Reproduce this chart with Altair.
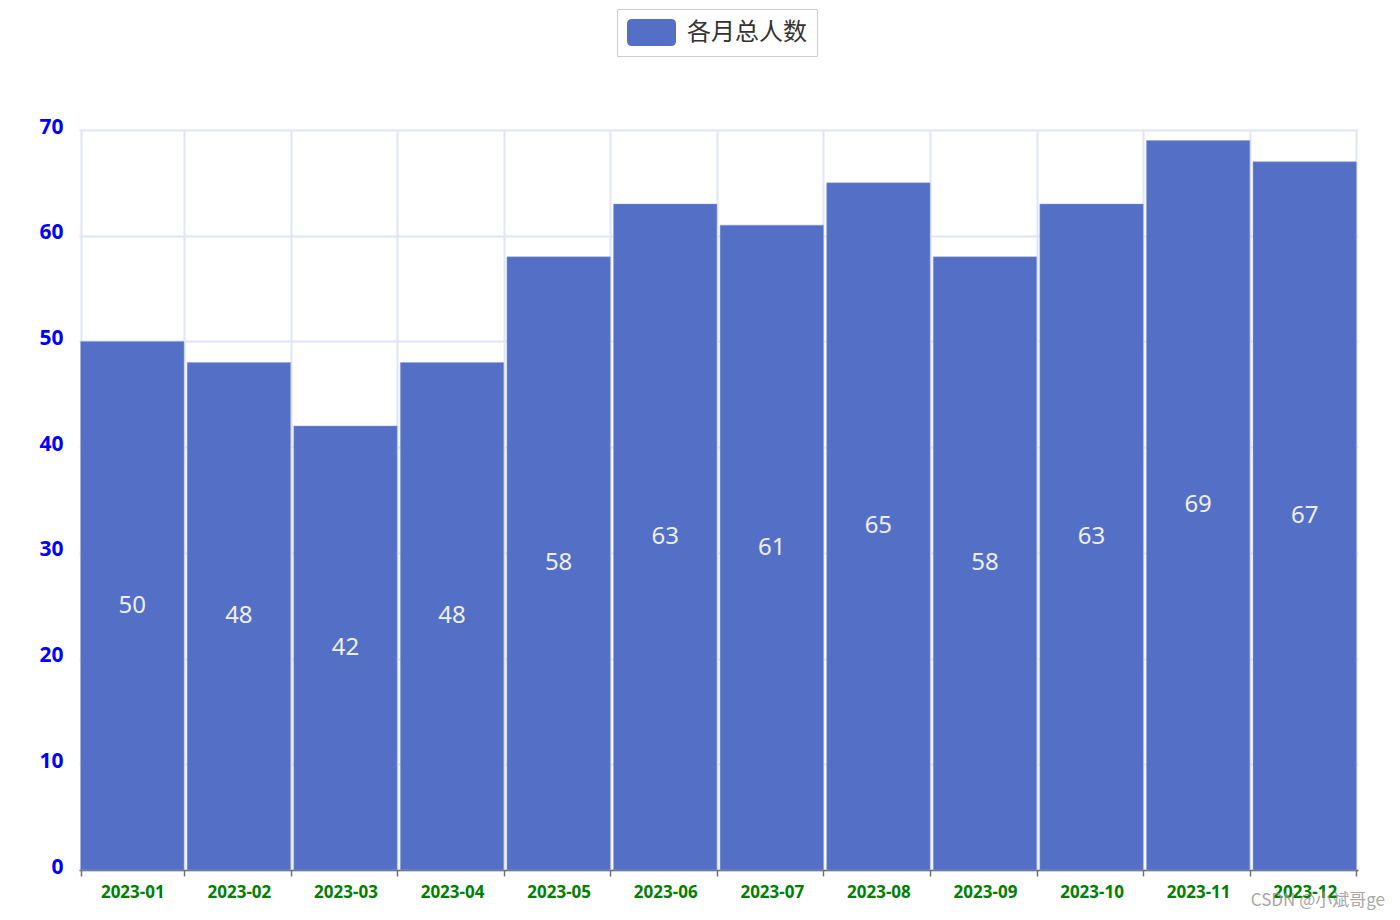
import altair as alt
import pandas as pd

months = ["2023-01", "2023-02", "2023-03", "2023-04", "2023-05", "2023-06",
          "2023-07", "2023-08", "2023-09", "2023-10", "2023-11", "2023-12"]
counts = [50, 48, 42, 48, 58, 63, 61, 65, 58, 63, 69, 67]
series_name = "各月总人数"
y_ticks = [0, 10, 20, 30, 40, 50, 60, 70]
watermark = "CSDN @小斌哥ge"

df = pd.DataFrame({"month": months, "count": counts, "series": series_name})

W, H = 1279, 740
# rounded swatch, 49x27 px when symbolSize = 27^2 (1 unit = 13.5 px)
rr = ("M-0.63,-1 L2.26,-1 Q2.63,-1 2.63,-0.63 L2.63,0.63 Q2.63,1 2.26,1 "
      "L-0.63,1 Q-1,1 -1,0.63 L-1,-0.63 Q-1,-1 -0.63,-1 Z")

x = alt.X("month:N", sort=months, title=None,
          scale=alt.Scale(paddingInner=0.03, paddingOuter=0.015),
          axis=alt.Axis(labelAngle=0, labelColor="green", labelFontWeight="bold",
                        labelFontSize=17, labelFont="Noto Sans", labelPadding=8,
                        domainColor="#6e7079", domainWidth=1.5, tickColor="#6e7079",
                        tickWidth=1.5, tickSize=6, tickBand="extent",
                        grid=True, gridColor="#e0e6f1", gridWidth=2))
y = alt.Y("count:Q", title=None,
          scale=alt.Scale(domain=[0, 70], nice=False),
          axis=alt.Axis(values=y_ticks, labelColor="blue", labelFontWeight="bold",
                        labelFontSize=21, labelFont="Noto Sans", labelPadding=16,
                        labelOffset=-3,
                        domain=False, ticks=False, grid=True, gridColor="#e0e6f1",
                        gridWidth=2))

bars = alt.Chart(df).mark_bar(stroke="#8fa0d8", strokeWidth=0.5).encode(
    x=x, y=y,
    color=alt.Color("series:N", scale=alt.Scale(range=["#5470c6"]), title=None,
                    legend=alt.Legend(orient="none", legendX=538, legendY=-121,
                                      strokeColor="#cccccc",
                                      padding=10, symbolType=rr, symbolSize=729,
                                      symbolStrokeWidth=0, symbolOpacity=1,
                                      labelFontSize=24, labelFont="Noto Sans CJK SC",
                                      labelColor="#333333", labelOffset=33,
                                      fillColor="white")),
)

labels = alt.Chart(df).mark_text(color="#eeeeee", fontSize=24, font="Noto Sans",
                                 baseline="middle").encode(
    x=alt.X("month:N", sort=months),
    y=alt.Y("mid:Q"),
    text="count:Q",
).transform_calculate(mid="datum.count / 2")

wm = alt.Chart(pd.DataFrame({"t": [watermark]})).mark_text(
    color="#999999", fontSize=17, font="Noto Sans CJK SC", align="right",
    baseline="middle", opacity=0.85).encode(
    x=alt.value(1306), y=alt.value(771), text="t:N")

chart = alt.layer(bars, labels, wm).properties(
    width=W, height=H,
    autosize=alt.AutoSizeParams(type="none"),
    padding={"left": 71, "top": 122, "right": 30, "bottom": 40},
).configure_view(stroke=None)

chart.save("out.html", embed_options={"renderer": "svg", "actions": False})
